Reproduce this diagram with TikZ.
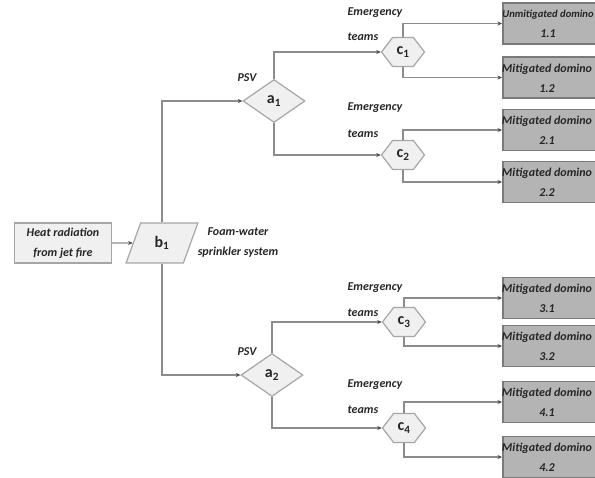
\documentclass[tikz,border=0pt]{standalone}
\usepackage{fontspec}
\setmainfont{Carlito}
\usetikzlibrary{arrows.meta,shapes.geometric,shapes.symbols}
\definecolor{linegray}{HTML}{8C8C8C}
\definecolor{shapeborder}{HTML}{A6A6A6}
\definecolor{shapefill}{HTML}{F0F0F0}
\definecolor{outfill}{HTML}{B4B4B4}
\definecolor{outborder}{HTML}{7A7A7A}
\definecolor{txtcol}{HTML}{262626}
\begin{document}
\begin{tikzpicture}[x=1pt,y=-1pt,
  txt/.style={font=\fontsize{12}{20}\selectfont\bfseries\itshape, text=txtcol},
  lbl/.style={font=\fontsize{16}{18}\selectfont\bfseries, text=txtcol},
  startbox/.style={draw=shapeborder, fill=shapefill, line width=1.2pt, rectangle,
    minimum width=97, minimum height=40, inner sep=0pt, align=center, txt},
  para/.style={draw=shapeborder, fill=shapefill, line width=1.2pt, trapezium,
    trapezium left angle=70, trapezium right angle=110, minimum width=57,
    minimum height=40, inner sep=0pt, lbl},
  dia/.style={draw=shapeborder, fill=shapefill, line width=1.2pt, diamond,
    minimum width=62, minimum height=43, inner sep=0pt, lbl},
  hexa/.style={draw=shapeborder, fill=shapefill, line width=1.2pt, signal,
    signal to=west and east, signal pointer angle=105, minimum width=43,
    minimum height=29, inner sep=0pt, lbl},
  outbox/.style={draw=outborder, fill=outfill, line width=1.5pt, rectangle,
    minimum width=100, minimum height=41, inner sep=0pt, anchor=west},
  outtxt/.style={txt, align=center, inner sep=0pt},
  conn/.style={draw=linegray, line width=1.2pt,
    -{Stealth[length=4.5pt,width=4pt,color=black!70]}},
  note/.style={txt, inner sep=0pt}
]
\useasboundingbox (0,0) rectangle (595,478);

% nodes
\node[startbox] (heat) at (63,243) {Heat radiation\\from jet fire};
\node[para] (b1) at (162,243) {b\textsubscript{1}};
\node[note, align=center] (foam) at (238,243) {Foam-water\\sprinkler system};

\node[dia] (a1) at (274,101) {a\textsubscript{1}};
\node[dia] (a2) at (272,375) {a\textsubscript{2}};
\node[note] (psv1) at (247,78) {PSV};
\node[note] (psv2) at (247,352) {PSV};

\node[hexa] (c1) at (403,52) {c\textsubscript{1}};
\node[hexa] (c2) at (403,155) {c\textsubscript{2}};
\node[hexa] (c3) at (404,322) {c\textsubscript{3}};
\node[hexa] (c4) at (404,428) {c\textsubscript{4}};

\node[note] (em1) at (375,13) {Emergency};
\node[note] (tm1) at (363,37) {teams};
\node[note] (em2) at (375,108) {Emergency};
\node[note] (tm2) at (363,134) {teams};
\node[note] (em3) at (375,288) {Emergency};
\node[note] (tm3) at (363,313) {teams};
\node[note] (em4) at (375,385) {Emergency};
\node[note] (tm4) at (363,410) {teams};

\node[outbox] (o11) at (502,23.5) {};
\node[outbox] (o12) at (502,77.5) {};
\node[outbox] (o21) at (502,130) {};
\node[outbox] (o22) at (502,182) {};
\node[outbox] (o31) at (502,298) {};
\node[outbox] (o32) at (502,346) {};
\node[outbox] (o41) at (502,402) {};
\node[outbox] (o42) at (502,457) {};
\node[outtxt] (t11) at (548,24) {{\fontsize{10.6}{20}\selectfont Unmitigated domino}\\1.1};
\node[outtxt] (t12) at (547,78) {Mitigated domino\\1.2};
\node[outtxt] (t21) at (547,130.5) {Mitigated domino\\2.1};
\node[outtxt] (t22) at (547,182.5) {Mitigated domino\\2.2};
\node[outtxt] (t31) at (547,298.5) {Mitigated domino\\3.1};
\node[outtxt] (t32) at (547,346.5) {Mitigated domino\\3.2};
\node[outtxt] (t41) at (547,402.5) {Mitigated domino\\4.1};
\node[outtxt] (t42) at (547,457.5) {Mitigated domino\\4.2};

% connectors
\draw[conn] (heat) -- (b1);
\draw[conn] (b1.center |- b1.north) |- (a1.west);
\draw[conn] (b1.center |- b1.south) |- (a2.west);
\draw[conn] (a1.north) |- (c1.west);
\draw[conn] (a1.south) |- (c2.west);
\draw[conn] (a2.north) |- (c3.west);
\draw[conn] (a2.south) |- (c4.west);
\draw[conn] (c1.north) |- (o11.west);
\draw[conn] (c1.south) |- (o12.west);
\draw[conn] (c2.north) |- (o21.west);
\draw[conn] (c2.south) |- (o22.west);
\draw[conn] (c3.north) |- (o31.west);
\draw[conn] (c3.south) |- (o32.west);
\draw[conn] (c4.north) |- (o41.west);
\draw[conn] (c4.south) |- (o42.west);
\end{tikzpicture}
\end{document}
